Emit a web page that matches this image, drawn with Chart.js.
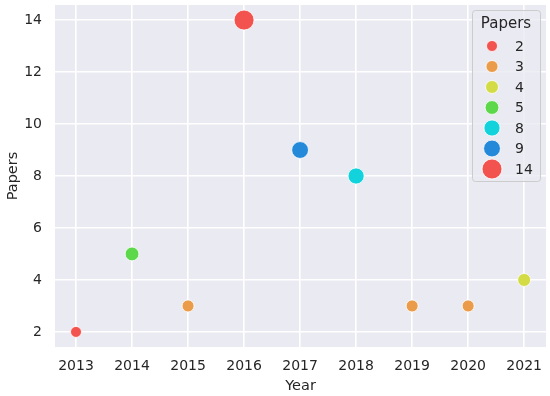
<!DOCTYPE html>
<html>
<head>
<meta charset="utf-8">
<script src="https://cdn.jsdelivr.net/npm/chart.js@4.4.0/dist/chart.umd.min.js"></script>
<style>
  html, body { margin: 0; padding: 0; background: #ffffff; }
  #wrap { width: 550px; height: 396px; }
</style>
</head>
<body>
<div id="wrap"><canvas id="grafico" width="550" height="396"></canvas></div>
<script>
// dados
const anos = [2013, 2014, 2015, 2016, 2017, 2018, 2019, 2020, 2021];
const papers = [2, 5, 3, 14, 9, 8, 3, 3, 4];
const niveis = [2, 3, 4, 5, 8, 9, 14];
const yTicks = [2, 4, 6, 8, 10, 12, 14];

const corNivel = {
  2: "#f2534f", 3: "#eb9c4b", 4: "#d3db45", 5: "#5cd84a",
  8: "#12d3dc", 9: "#2589da", 14: "#f2534f"
};

// raio do marcador: área linear entre o menor e o maior valor
function raio(v) {
  const aMin = 5.5 * 5.5, aMax = 10 * 10;
  return Math.sqrt(aMin + (v - 2) / 12 * (aMax - aMin));
}

const fonte = "'DejaVu Sans', sans-serif";
const corTexto = "#262626";

const fundoPlot = {
  id: "fundoPlot",
  beforeDraw(chart) {
    const { ctx, chartArea: a } = chart;
    ctx.save();
    ctx.fillStyle = "#eaeaf2";
    ctx.fillRect(a.left, a.top, a.right - a.left, a.bottom - a.top);
    ctx.restore();
  }
};

const legendaPapers = {
  id: "legendaPapers",
  afterDraw(chart) {
    const ctx = chart.ctx;
    const x0 = 472, y0 = 10, w = 68, h = 171;
    ctx.save();
    ctx.beginPath();
    ctx.roundRect(x0 + 0.5, y0 + 0.5, w, h, 3);
    ctx.fillStyle = "rgba(234,234,242,0.8)";
    ctx.fill();
    ctx.strokeStyle = "#cccccc";
    ctx.lineWidth = 1;
    ctx.stroke();

    ctx.fillStyle = corTexto;
    ctx.font = "15px " + fonte;
    ctx.textAlign = "center";
    ctx.textBaseline = "middle";
    ctx.fillText("Papers", 506, 24);

    niveis.forEach((n, i) => {
      const y = 46 + i * 20.5;
      ctx.beginPath();
      ctx.arc(492, y, raio(n), 0, Math.PI * 2);
      ctx.fillStyle = corNivel[n];
      ctx.fill();
      ctx.strokeStyle = "#ffffff";
      ctx.lineWidth = 0.8;
      ctx.stroke();
      ctx.fillStyle = corTexto;
      ctx.font = "14px " + fonte;
      ctx.textAlign = "left";
      ctx.fillText(String(n), 515, y + 1);
    });
    ctx.restore();
  }
};

function semPadding(s) {
  s.paddingLeft = 0; s.paddingRight = 0;
  s.paddingTop = 0; s.paddingBottom = 0;
}

const pontos = anos.map((a, i) => ({ x: a, y: papers[i] }));

new Chart(document.getElementById("grafico").getContext("2d"), {
  type: "scatter",
  data: {
    datasets: [{
      label: "Papers",
      data: pontos,
      backgroundColor: papers.map(v => corNivel[v]),
      borderColor: "#ffffff",
      borderWidth: 0.8,
      pointRadius: papers.map(v => raio(v)),
      pointHoverRadius: papers.map(v => raio(v))
    }]
  },
  options: {
    responsive: false,
    animation: false,
    layout: { autoPadding: false, padding: { top: 5, right: 4, left: 0, bottom: 0 } },
    plugins: {
      legend: { display: false },
      tooltip: { enabled: false }
    },
    scales: {
      x: {
        type: "linear",
        min: 2012.625,
        max: 2021.39,
        afterBuildTicks: s => { s.ticks = anos.map(v => ({ value: v })); },
        afterFit: s => { s.height = 49; semPadding(s); },
        grid: { color: "#ffffff", lineWidth: 1.6, drawTicks: false },
        border: { display: false },
        ticks: {
          color: corTexto,
          font: { family: fonte, size: 14 },
          padding: 11,
          maxRotation: 0,
          callback: v => String(v)
        },
        title: {
          display: true,
          text: "Year",
          color: corTexto,
          font: { family: fonte, size: 14.5 },
          padding: { top: 0, bottom: 1 }
        }
      },
      y: {
        min: 1.42,
        max: 14.58,
        afterBuildTicks: s => { s.ticks = yTicks.map(v => ({ value: v })); },
        afterFit: s => { s.width = 55; semPadding(s); },
        grid: { color: "#ffffff", lineWidth: 1.6, drawTicks: false },
        border: { display: false },
        ticks: {
          color: corTexto,
          font: { family: fonte, size: 14 },
          padding: 13,
          callback: v => String(v)
        },
        title: {
          display: true,
          text: "Papers",
          color: corTexto,
          font: { family: fonte, size: 14.5 },
          padding: { top: 5, bottom: 0 }
        }
      }
    }
  },
  plugins: [fundoPlot, legendaPapers]
});
</script>
</body>
</html>
